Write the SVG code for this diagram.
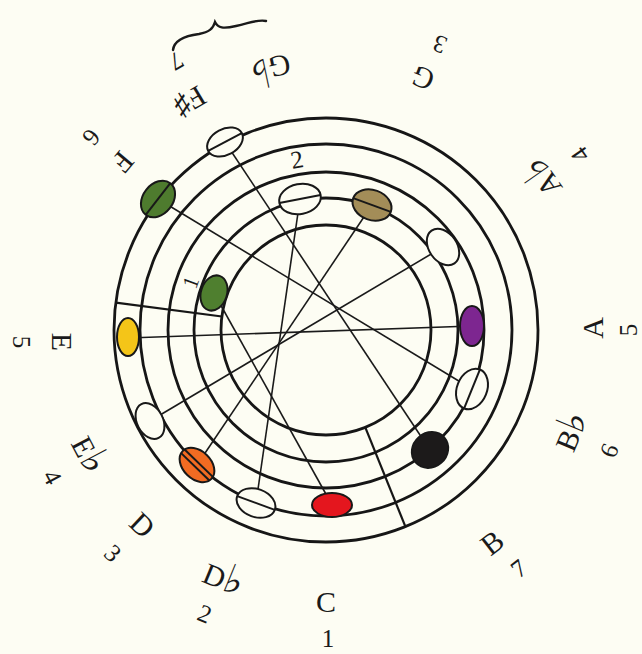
<svg xmlns="http://www.w3.org/2000/svg" width="642" height="654" viewBox="0 0 642 654">
<style>
.ring{fill:none;stroke:#161616;stroke-width:2.8}
.seam{stroke:#161616;stroke-width:2.2}
.chord{stroke:#1a1a1a;stroke-width:1.6;fill:none}
.el{stroke:#181818;stroke-width:2}
.stripe{stroke:#181818;stroke-width:2}
.w{fill:#fdfdf3}
.lt{font-family:"Liberation Serif","DejaVu Serif",serif;font-size:30px;fill:#1a1a1a;text-anchor:middle}
.nm{font-family:"Liberation Serif","DejaVu Serif",serif;font-size:25px;fill:#1a1a1a;text-anchor:middle}
.fl{font-family:"DejaVu Sans",sans-serif;font-size:40px}
</style>
<rect width="642" height="654" fill="#fdfdf3"/>
<g id="rings">
<circle class="ring" cx="326" cy="330" r="212"/>
<circle class="ring" cx="326" cy="330" r="186"/>
<circle class="ring" cx="326" cy="330" r="158"/>
<circle class="ring" cx="326" cy="330" r="132"/>
<circle class="ring" cx="326" cy="330" r="105"/>
<line class="seam" x1="115.8" y1="302.7" x2="221.9" y2="316.5"/>
<line class="seam" x1="405.4" y1="526.6" x2="365.3" y2="427.4"/>
</g>
<g id="connectors">
<line class="chord" x1="225" y1="142" x2="430" y2="450"/>
<line class="chord" x1="158" y1="199" x2="472" y2="389"/>
<line class="chord" x1="128" y1="338" x2="472" y2="326"/>
<line class="chord" x1="150" y1="421" x2="443" y2="247"/>
<line class="chord" x1="197" y1="465" x2="372" y2="205"/>
<line class="chord" x1="256" y1="503" x2="300" y2="199"/>
<line class="chord" x1="214" y1="293" x2="332" y2="505"/>
</g>
<g id="node-fsharp"><ellipse class="el w" cx="225" cy="142" rx="19" ry="13" transform="rotate(-28 225 142)"/><line class="stripe" x1="206" y1="142" x2="244" y2="142" transform="rotate(-28 225 142)"/></g>
<g id="node-f"><ellipse class="el" fill="#4e7b2e" cx="158" cy="199" rx="20" ry="15" transform="rotate(-52 158 199)"/><line class="stripe" x1="138" y1="199" x2="178" y2="199" transform="rotate(-52 158 199)"/></g>
<g id="node-e"><ellipse class="el" fill="#f4c518" cx="128" cy="337" rx="19" ry="11" transform="rotate(90 128 337)"/></g>
<g id="node-eb"><ellipse class="el w" cx="150" cy="421" rx="19" ry="13" transform="rotate(63 150 421)"/></g>
<g id="node-d"><ellipse class="el" fill="#f26b22" cx="197" cy="465" rx="20" ry="14" transform="rotate(44 197 465)"/><line class="stripe" x1="177" y1="462.5" x2="217" y2="462.5" transform="rotate(44 197 465)"/><line class="stripe" x1="177" y1="467.5" x2="217" y2="467.5" transform="rotate(44 197 465)"/></g>
<g id="node-db"><ellipse class="el w" cx="256" cy="503" rx="20" ry="14" transform="rotate(20 256 503)"/><line class="stripe" x1="236" y1="503" x2="276" y2="503" transform="rotate(20 256 503)"/></g>
<g id="node-c"><ellipse class="el" fill="#e4161e" cx="332" cy="505" rx="20" ry="12"/></g>
<g id="node-b"><ellipse class="el" fill="#1c1a1a" cx="430" cy="450" rx="19" ry="17" transform="rotate(139 430 450)"/></g>
<g id="node-bb"><ellipse class="el w" cx="472" cy="389" rx="21" ry="15" transform="rotate(112 472 389)"/><line class="stripe" x1="451" y1="389" x2="493" y2="389" transform="rotate(112 472 389)"/></g>
<g id="node-a"><ellipse class="el" fill="#7d2690" cx="472" cy="326" rx="20" ry="12" transform="rotate(90 472 326)"/></g>
<g id="node-a2"><ellipse class="el w" cx="443" cy="247" rx="20" ry="14" transform="rotate(55 443 247)"/></g>
<g id="node-ab"><ellipse class="el" fill="#a38d58" cx="372" cy="205" rx="20" ry="15" transform="rotate(20 372 205)"/><line class="stripe" x1="352" y1="205" x2="392" y2="205" transform="rotate(20 372 205)"/></g>
<g id="node-g2"><ellipse class="el w" cx="300" cy="199" rx="21" ry="15" transform="rotate(-11 300 199)"/><line class="stripe" x1="279" y1="199" x2="321" y2="199" transform="rotate(-11 300 199)"/></g>
<g id="node-1"><ellipse class="el" fill="#4f7f2f" cx="214" cy="293" rx="18" ry="13" transform="rotate(-72 214 293)"/></g>
<g id="labels">
<g transform="translate(326 330) rotate(0)"><text class="lt" x="0" y="282">C</text><text class="nm" x="2" y="317">1</text></g>
<g transform="translate(326 330) rotate(22.4)"><text class="lt" x="0" y="280">D<tspan class="fl">♭</tspan></text><text class="nm" x="-4" y="317">2</text></g>
<g transform="translate(326 330) rotate(43.3)"><text class="lt" x="0" y="278">D</text><text class="nm" x="-2" y="317">3</text></g>
<g transform="translate(326 330) rotate(62.3)"><text class="lt" x="0" y="279">E<tspan class="fl">♭</tspan></text><text class="nm" x="3" y="319">4</text></g>
<g transform="translate(326 330) rotate(90)"><text class="lt" x="12" y="274">E</text><text class="nm" x="12" y="313">5</text></g>
<g transform="translate(326 330) rotate(129.6)"><text class="lt" x="0" y="274">F</text><text class="nm" x="1" y="312">6</text></g>
<g transform="translate(326 330) rotate(149.2)"><text class="lt" x="0" y="276">F♯</text><text class="nm" x="-9" y="316">7</text></g>
<g transform="translate(326 330) rotate(168)"><text class="lt" x="0" y="278">G<tspan class="fl">♭</tspan></text></g>
<g transform="translate(326 330) rotate(-159)"><text class="lt" x="0" y="280">G</text><text class="nm" x="-4" y="316">3</text></g>
<g transform="translate(326 330) rotate(-125)"><text class="lt" x="1" y="276">A<tspan class="fl">♭</tspan></text><text class="nm" x="-2" y="317">4</text></g>
<g transform="translate(326 330) rotate(-90)"><text class="lt" x="2" y="277">A</text><text class="nm" x="0" y="311">5</text></g>
<g transform="translate(326 330) rotate(-67.5)"><text class="lt" x="0" y="276">B<tspan class="fl">♭</tspan></text><text class="nm" x="-3" y="316">6</text></g>
<g transform="translate(326 330) rotate(-38)"><text class="lt" x="0" y="280">B</text><text class="nm" x="5" y="315">7</text></g>
<text class="nm" transform="translate(297 160) rotate(-10)" x="0" y="8">2</text>
<text class="nm" style="font-size:22px" transform="translate(190 282) rotate(-70)" x="0" y="8">1</text>
<path d="M173,50 C174,41 184,36 199,34 C209,32 213,29 215,22 C218,28 223,29 236,26 C250,23 258,19 266,21" fill="none" stroke="#1a1a1a" stroke-width="2.4" stroke-linecap="round"/>
</g>
</svg>
